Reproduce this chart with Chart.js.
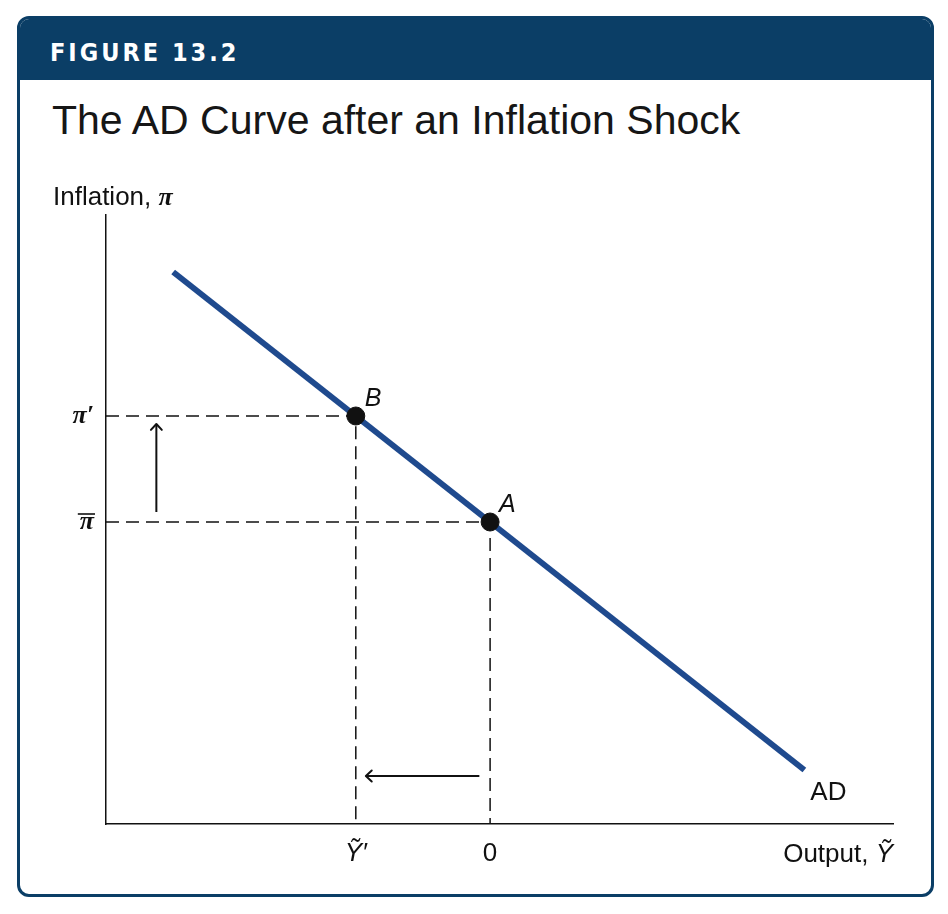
<!DOCTYPE html>
<html>
<head>
<meta charset="utf-8">
<script src="https://cdn.jsdelivr.net/npm/chart.js@4"></script>
<style>
  html, body { margin: 0; padding: 0; background: #ffffff; }
  body { width: 948px; height: 914px; position: relative; overflow: hidden; }
  .frame {
    position: absolute; left: 17px; top: 16px; width: 917px; height: 881px;
    box-sizing: border-box; border: 3px solid #0b3e66; border-radius: 12px; overflow: hidden;
    background: #ffffff;
  }
  .header { position: absolute; left: 0; top: 0; right: 0; height: 61px; background: #0b3e66; }
  .fig {
    position: absolute; left: 50px; top: 40px; color: #ffffff;
    font-family: "DejaVu Sans Condensed", "DejaVu Sans", sans-serif; font-weight: bold;
    font-size: 25px; line-height: 25px; letter-spacing: 3px; white-space: nowrap;
  }
  .title {
    position: absolute; left: 52px; top: 100px; color: #161616;
    font-family: "Liberation Sans", Arial, sans-serif; font-size: 41px; line-height: 41px; white-space: nowrap;
  }
  canvas { position: absolute; left: 0; top: 0; }
</style>
</head>
<body>
<div class="frame"><div class="header"></div></div>
<div class="fig">FIGURE 13.2</div>
<div class="title">The AD Curve after an Inflation Shock</div>
<canvas id="c" width="948" height="914"></canvas>
<script>
// ---- data ----
const xRange = [-2.86, 3.0];
const yRange = [0, 6.09];
const xTickValues = [-1, 0];
const xTickLabels = ['Ỹ′', '0'];
const yTickValues = [3.02, 4.08];
const yTickLabels = ['π\u0304', 'π′'];
const adX = [-2.36, 2.34];
const adY = [5.52, 0.54];
const pointNames = ['B', 'A'];
const pointX = [-1, 0];
const pointY = [4.08, 3.02];
const arrowUpX = [-2.485, -2.485];
const arrowUpY = [3.12, 4.0];
const arrowLeftX = [-0.08, -0.925];
const arrowLeftY = [0.48, 0.48];
const curveLabel = 'AD';
const xAxisTitle = 'Output, ';
const xAxisSymbol = 'Ỹ';
const yAxisTitle = 'Inflation, ';
const yAxisSymbol = 'π';

// ---- build datasets ----
const toPts = (xs, ys) => xs.map((x, i) => ({ x: x, y: ys[i] }));
const AD_COLOR = '#1f4a8e';
const MACRON = '\u0304';
const dashStyle = { borderColor: '#111', borderWidth: 1.5, borderDash: [13, 7], pointRadius: 0, showLine: true, fill: false };

const guideSets = pointX.map((px, i) => ({
  data: [{ x: xRange[0], y: pointY[i] }, { x: px, y: pointY[i] }, { x: px, y: yRange[0] }],
  ...dashStyle
}));

const datasets = [
  { data: toPts(pointX, pointY), pointRadius: 9, pointBackgroundColor: '#111', pointBorderColor: '#111', showLine: false },
  { data: toPts(adX, adY), borderColor: AD_COLOR, borderWidth: 6, pointRadius: 0, showLine: true },
  { data: toPts(arrowUpX, arrowUpY), borderColor: '#111', borderWidth: 2, pointRadius: 0, showLine: true, arrow: true },
  { data: toPts(arrowLeftX, arrowLeftY), borderColor: '#111', borderWidth: 2, pointRadius: 0, showLine: true, arrow: true },
  ...guideSets
];

const SANS = '"Liberation Sans", Arial, sans-serif';
const SERIF = '"Liberation Serif", "DejaVu Serif", serif';
const Y_TICK_FONT = 'italic bold 26px ' + SERIF;
const Y_TICK_PAD = 12;

const annot = {
  id: 'annot',
  afterDatasetsDraw(chart) {
    const ctx = chart.ctx, xs = chart.scales.x, ys = chart.scales.y;
    ctx.save();
    // arrowheads
    chart.data.datasets.forEach(ds => {
      if (!ds.arrow) return;
      const n = ds.data.length;
      const p1 = ds.data[n - 2], p2 = ds.data[n - 1];
      const x1 = xs.getPixelForValue(p1.x), y1 = ys.getPixelForValue(p1.y);
      const x2 = xs.getPixelForValue(p2.x), y2 = ys.getPixelForValue(p2.y);
      const a = Math.atan2(y2 - y1, x2 - x1), L = 8, w = 0.75;
      ctx.strokeStyle = '#111'; ctx.lineWidth = 2; ctx.lineCap = 'round'; ctx.lineJoin = 'round';
      ctx.beginPath();
      ctx.moveTo(x2 - L * Math.cos(a - w), y2 - L * Math.sin(a - w));
      ctx.lineTo(x2, y2);
      ctx.lineTo(x2 - L * Math.cos(a + w), y2 - L * Math.sin(a + w));
      ctx.stroke();
    });
    // overline (macron) for tick labels carrying a combining macron
    ctx.font = Y_TICK_FONT;
    yTickLabels.forEach((lab, i) => {
      if (lab.indexOf(MACRON) < 0) return;
      const base = lab.replace(MACRON, '');
      const w = ctx.measureText(base).width;
      const right = chart.chartArea.left - Y_TICK_PAD;
      const yc = ys.getPixelForValue(yTickValues[i]);
      ctx.strokeStyle = '#111'; ctx.lineWidth = 1.6; ctx.lineCap = 'butt';
      ctx.beginPath();
      ctx.moveTo(right - w - 2, yc - 8);
      ctx.lineTo(right + 1, yc - 8);
      ctx.stroke();
    });
    // point labels
    ctx.fillStyle = '#111';
    ctx.textBaseline = 'alphabetic';
    ctx.textAlign = 'left';
    ctx.font = 'italic 25px ' + SANS;
    pointNames.forEach((n, i) => {
      ctx.fillText(n, xs.getPixelForValue(pointX[i]) + 9, ys.getPixelForValue(pointY[i]) - 10);
    });
    // curve label
    ctx.font = '26px ' + SANS;
    ctx.fillText(curveLabel, xs.getPixelForValue(adX[1]) + 6, ys.getPixelForValue(adY[1]) + 30);
    // y axis title
    ctx.font = '26px ' + SANS;
    const yx = 53, yb = 205;
    ctx.fillText(yAxisTitle, yx, yb);
    const w1 = ctx.measureText(yAxisTitle).width;
    ctx.font = 'italic bold 26px ' + SERIF;
    ctx.fillText(yAxisSymbol, yx + w1, yb);
    // x axis title (right aligned to axis end)
    const xr = chart.chartArea.right, xb = 862;
    ctx.font = 'italic 26px ' + SANS;
    const ws = ctx.measureText(xAxisSymbol).width;
    ctx.fillText(xAxisSymbol, xr - ws, xb);
    ctx.font = '26px ' + SANS;
    const wt = ctx.measureText(xAxisTitle).width;
    ctx.fillText(xAxisTitle, xr - ws - wt, xb);
    ctx.restore();
  }
};

new Chart(document.getElementById('c'), {
  type: 'scatter',
  data: { datasets },
  options: {
    responsive: false,
    animation: false,
    devicePixelRatio: 1,
    layout: { padding: { left: 0, top: 215, right: 55, bottom: 0 } },
    plugins: { legend: { display: false }, tooltip: { enabled: false } },
    scales: {
      x: {
        type: 'linear', min: xRange[0], max: xRange[1],
        afterBuildTicks: s => { s.ticks = xTickValues.map(v => ({ value: v })); },
        afterFit: s => { s.height = 90; },
        grid: { display: false, drawTicks: false },
        border: { display: true, color: '#111', width: 1.5 },
        ticks: {
          padding: 14, color: '#111', autoSkip: false, maxRotation: 0,
          callback: v => { const i = xTickValues.indexOf(v); return i >= 0 ? xTickLabels[i] : ''; },
          font: c => (c.index === 0 ? { family: SANS, size: 26, style: 'italic' } : { family: SANS, size: 26 })
        }
      },
      y: {
        type: 'linear', min: yRange[0], max: yRange[1],
        afterBuildTicks: s => { s.ticks = yTickValues.map(v => ({ value: v })); },
        afterFit: s => { s.width = 106; },
        grid: { display: false, drawTicks: false },
        border: { display: true, color: '#111', width: 1.5 },
        ticks: {
          padding: Y_TICK_PAD, color: '#111', autoSkip: false,
          callback: v => { const i = yTickValues.indexOf(v); return i >= 0 ? yTickLabels[i].replace(MACRON, '') : ''; },
          font: { family: SERIF, size: 26, style: 'italic', weight: 'bold' }
        }
      }
    }
  },
  plugins: [annot]
});
</script>
</body>
</html>
